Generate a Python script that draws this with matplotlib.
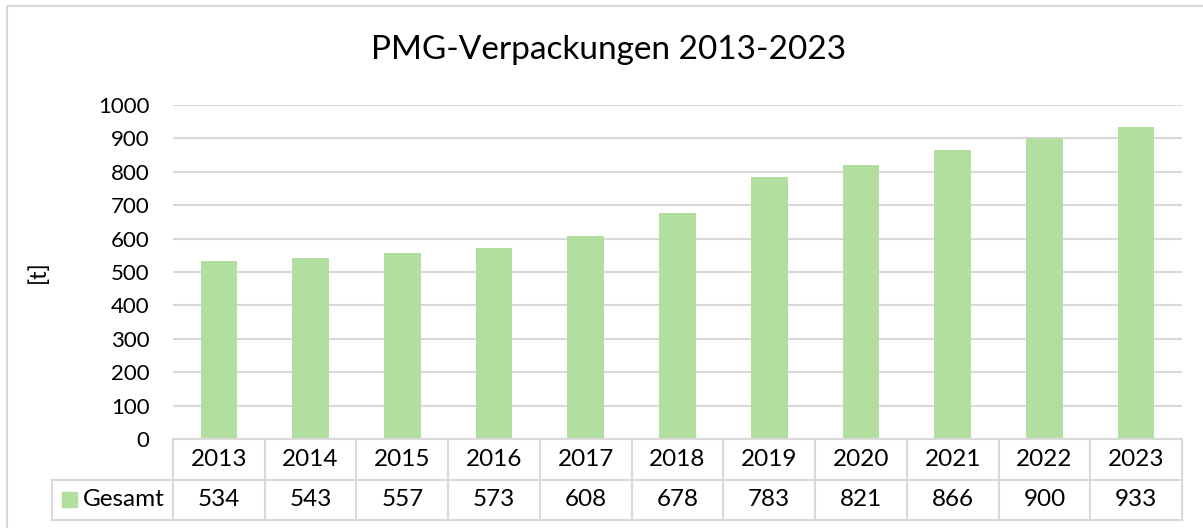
import matplotlib.pyplot as plt
from matplotlib.lines import Line2D
from matplotlib.patches import Rectangle

years = ["2013", "2014", "2015", "2016", "2017", "2018",
         "2019", "2020", "2021", "2022", "2023"]
gesamt = [534, 543, 557, 573, 608, 678, 783, 821, 866, 900, 933]
series_name = "Gesamt"
title = "PMG-Verpackungen 2013-2023"
y_label = "[t]"

BAR = "#B2DEA0"
GRID = "#D9D9D9"
W, H = 1203, 528

plt.rcParams["font.family"] = ["Lato", "DejaVu Sans"]

fig = plt.figure(figsize=(W / 100, H / 100), dpi=100)


def fx(px):
    return px / W


def fy(py):
    return 1 - py / H


# chart border (right and bottom fall outside the picture)
fig.add_artist(Line2D([fx(7), fx(7)], [fy(6), 0], color=GRID, lw=1.5))
fig.add_artist(Line2D([fx(7), 1], [fy(6), fy(6)], color=GRID, lw=1.5))

left, right, top, base = 173, 1182, 105, 439
ax = fig.add_axes([fx(left), fy(base), fx(right - left), (base - top) / H])
n = len(years)
ax.bar(range(n), gesamt, width=0.4, color=BAR, zorder=3)
ax.set_xlim(-0.5, n - 0.5)
ax.set_ylim(0, 1000)
ax.set_yticks(range(0, 1001, 100))
ax.tick_params(axis="y", length=0, pad=17, labelsize=16)
ax.set_xticks([])
ax.grid(axis="y", color=GRID, lw=1.5, zorder=0)
for s in ax.spines.values():
    s.set_visible(False)
ax.set_ylabel(y_label, fontsize=17, labelpad=35)

fig.text(fx(609), fy(50), title, ha="center", va="center", fontsize=24)

# data table below the axis
row1, row2, row3 = 439, 480, 520
tab = fig.add_axes([fx(left), fy(row3), fx(right - left), (row3 - row1) / H])
tab.set_xlim(-0.5, n - 0.5)
tab.set_ylim(0, 2)
tab.axis("off")
cw = (right - left) / n
lab_left = -0.5 - (left - 52) / cw
kw = dict(color=GRID, lw=1.5, clip_on=False)
tab.plot([-0.5, n - 0.5], [2, 2], **kw)
tab.plot([lab_left, n - 0.5], [1, 1], **kw)
tab.plot([lab_left, n - 0.5], [0, 0], **kw)
tab.plot([lab_left, lab_left], [0, 1], **kw)
for i in range(n + 1):
    tab.plot([i - 0.5, i - 0.5], [0, 2], **kw)
for i, (yr, v) in enumerate(zip(years, gesamt)):
    tab.text(i, 1.5, yr, ha="center", va="center", fontsize=17.5)
    tab.text(i, 0.5, str(v), ha="center", va="center", fontsize=17.5)
tab.add_patch(Rectangle((lab_left + 10 / cw, 0.5 - 0.18), 15 / cw, 0.36,
                        color=BAR, clip_on=False))
tab.text(lab_left + 31 / cw, 0.5, series_name,
         ha="left", va="center", fontsize=17.5)

fig.savefig("out.png", dpi=100)
